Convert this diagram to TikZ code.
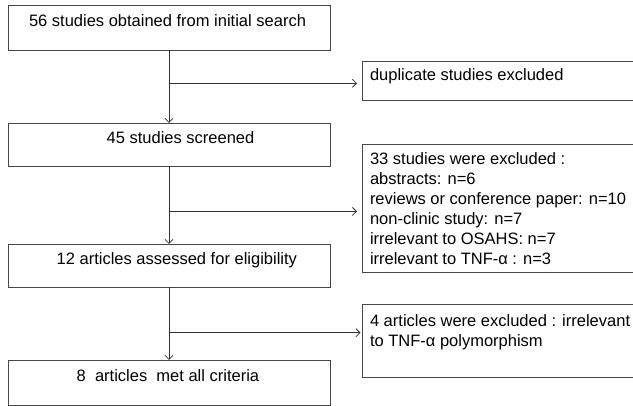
\documentclass[tikz,border=0pt]{standalone}
\usepackage{fontspec}
\setmainfont{Liberation Sans}
\usetikzlibrary{arrows.meta}
\begin{document}
\begin{tikzpicture}[x=1pt,y=-1pt,
  box/.style={draw=black!72, line width=0.9pt, anchor=north west, inner sep=0pt, outer sep=0pt},
  txt/.style={inner sep=0pt, outer sep=0pt, font=\fontsize{16.5}{19.9}\selectfont, text=black},
  conn/.style={draw=black!80, line width=0.9pt},
  arr/.style={conn, -{Straight Barb[length=4pt,width=8pt,line width=0.8pt]}}]
\useasboundingbox (0,0) rectangle (633,406);
% left column boxes
\node[box, minimum width=322pt, minimum height=45pt] (b1) at (8,5) {};
\node[box, minimum width=322pt, minimum height=43pt] (b45) at (8,123) {};
\node[box, minimum width=322pt, minimum height=43pt] (b12) at (8,244) {};
\node[box, minimum width=322pt, minimum height=45pt] (b8) at (8,360) {};
% right column boxes (cut off at the right edge)
\node[box, minimum width=278pt, minimum height=39pt] (dup) at (362,61) {};
\node[box, minimum width=278pt, minimum height=128pt] (excl) at (362,144) {};
\node[box, minimum width=278pt, minimum height=73pt] (art4) at (362,304) {};
% texts
\node[txt, anchor=base west] (t1) at (29,27) {56 studies obtained from initial search};
\node[txt, anchor=base west] (t45) at (106.7,144) {45 studies screened};
\node[txt, anchor=base west] (t12) at (56.7,265) {12 articles assessed for eligibility};
\node[txt, anchor=base west] (t8) at (76.7,382) {8\ \ articles\ \ met all criteria};
\node[txt, anchor=base west] (tdup) at (370,80.5) {duplicate studies excluded};
\node[txt, anchor=north west, align=left] (texcl) at (370,153) {33 studies were excluded :\\abstracts: n=6\\reviews or conference paper: n=10\\non-clinic study: n=7\\irrelevant to OSAHS: n=7\\irrelevant to TNF-α : n=3};
\node[txt, anchor=north west, align=left] (t4) at (370,315) {4 articles were excluded : irrelevant\\to TNF-α polymorphism};
% junctions
\coordinate (j1) at (169,83.3);
\coordinate (j2) at (169,211.5);
\coordinate (j3) at (169,332.7);
% connectors
\draw[arr] (b1.south) -- (b45.north);
\draw[arr] (b45.south) -- (b12.north);
\draw[arr] (b12.south) -- (b8.north);
\draw[arr, shorten >=5pt] (j1) -- (j1 -| dup.west);
\draw[arr, shorten >=5pt] (j2) -- (j2 -| excl.west);
\draw[arr, shorten >=1.5pt] (j3) -- (j3 -| art4.west);
\end{tikzpicture}
\end{document}
